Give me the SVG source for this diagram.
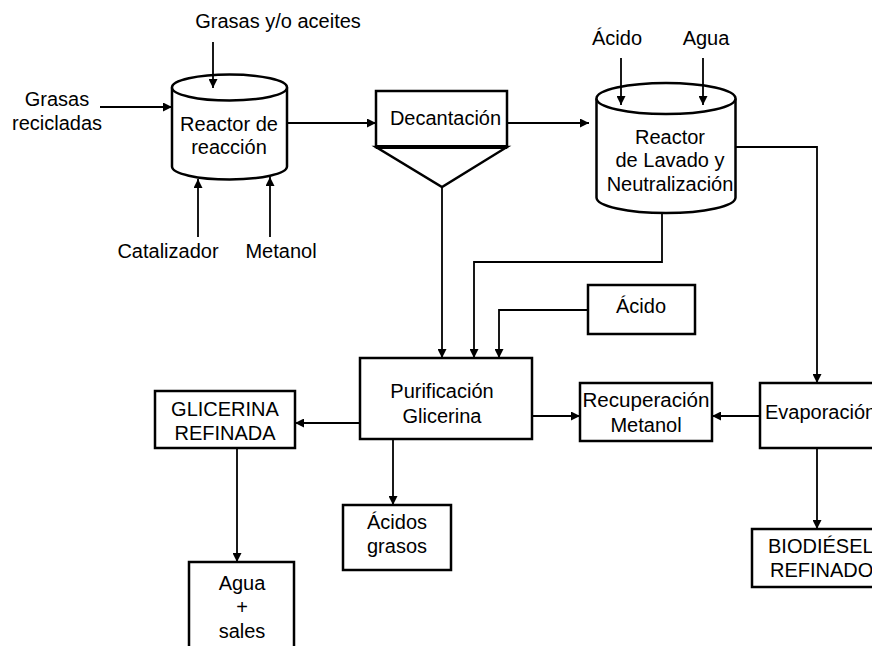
<svg xmlns="http://www.w3.org/2000/svg" width="872" height="646" viewBox="0 0 872 646">
<style>
text{font-family:"Liberation Sans",Arial,sans-serif;font-size:20px;fill:#000;text-anchor:middle}
.n{fill:#fff;stroke:#000;stroke-width:2.5}
.c{fill:none;stroke:#000;stroke-width:1.8}
.s{text-anchor:start}
</style>
<defs>
<marker id="a" markerUnits="userSpaceOnUse" markerWidth="9" markerHeight="9" refX="9" refY="4.5" orient="auto">
<path d="M0,0 L9,4.5 L0,9 z" fill="#000"/>
</marker>
</defs>
<rect width="872" height="646" fill="#fff"/>
<g id="labels">
<text x="278" y="28">Grasas y/o aceites</text>
<text x="57" y="106">Grasas</text>
<text x="57" y="130">recicladas</text>
<text x="168" y="258">Catalizador</text>
<text x="281" y="258">Metanol</text>
<text x="617" y="45">Ácido</text>
<text x="706" y="45">Agua</text>
</g>
<g id="reactor-reaccion">
<path class="n" d="M172,87.5 V166.5 A57.5,13 0 0 0 287,166.5 V87.5"/>
<ellipse class="n" cx="229.5" cy="87.5" rx="57.5" ry="13"/>
<text x="229" y="131">Reactor de</text>
<text x="229" y="154">reacción</text>
</g>
<g id="decantacion">
<rect class="n" x="376" y="91" width="131" height="56"/>
<path class="n" d="M376,147 H507 L442,187 Z"/>
<path d="M376,147 H507" stroke="#000" stroke-width="4"/>
<text x="445.5" y="125">Decantación</text>
</g>
<g id="reactor-lavado">
<path class="n" d="M596.5,98.5 V197.5 A69.5,15.5 0 0 0 735.5,197.5 V98.5"/>
<ellipse class="n" cx="666" cy="98.5" rx="69.5" ry="15.5"/>
<text x="670" y="144">Reactor</text>
<text x="670" y="167">de Lavado y</text>
<text x="670" y="191">Neutralización</text>
</g>
<g id="acido">
<rect class="n" x="588" y="285" width="107" height="49"/>
<text x="641" y="313">Ácido</text>
</g>
<g id="purificacion">
<rect class="n" x="360" y="358" width="172" height="81"/>
<text x="442" y="398">Purificación</text>
<text x="442" y="423">Glicerina</text>
</g>
<g id="recuperacion">
<rect class="n" x="580" y="383" width="132" height="58"/>
<text x="646" y="407" textLength="127" lengthAdjust="spacingAndGlyphs">Recuperación</text>
<text x="646" y="432">Metanol</text>
</g>
<g id="evaporacion">
<rect class="n" x="760" y="383" width="140" height="65"/>
<text class="s" x="765" y="419">Evaporación</text>
</g>
<g id="biodiesel">
<rect class="n" x="752" y="529" width="140" height="58"/>
<text class="s" x="768" y="553">BIODIÉSEL</text>
<text class="s" x="770" y="577">REFINADO</text>
</g>
<g id="glicerina">
<rect class="n" x="155" y="391" width="140" height="57"/>
<text x="225" y="416">GLICERINA</text>
<text x="225" y="440">REFINADA</text>
</g>
<g id="acidos-grasos">
<rect class="n" x="343" y="505" width="108" height="65"/>
<text x="397" y="529">Ácidos</text>
<text x="397" y="553">grasos</text>
</g>
<g id="agua-sales">
<rect class="n" x="189" y="562" width="105" height="100"/>
<text x="242" y="590">Agua</text>
<text x="242" y="614">+</text>
<text x="242" y="638">sales</text>
</g>
<g id="connectors">
<path class="c" d="M213,42 V88" marker-end="url(#a)"/>
<path class="c" d="M100,107 H172" marker-end="url(#a)"/>
<path class="c" d="M198,237 V179" marker-end="url(#a)"/>
<path class="c" d="M270,237 V177" marker-end="url(#a)"/>
<path class="c" d="M287,123 H376" marker-end="url(#a)"/>
<path class="c" d="M507,123 H589" marker-end="url(#a)"/>
<path class="c" d="M621,58 V105" marker-end="url(#a)"/>
<path class="c" d="M703,58 V105" marker-end="url(#a)"/>
<path class="c" d="M736,147 H817 V383" marker-end="url(#a)"/>
<path class="c" d="M662,213 V262 H474 V358" marker-end="url(#a)"/>
<path class="c" d="M442,187 V358" marker-end="url(#a)"/>
<path class="c" d="M588,310 H499 V358" marker-end="url(#a)"/>
<path class="c" d="M532,416 H580" marker-end="url(#a)"/>
<path class="c" d="M760,416 H712" marker-end="url(#a)"/>
<path class="c" d="M817,448 V529" marker-end="url(#a)"/>
<path class="c" d="M360,423 H295" marker-end="url(#a)"/>
<path class="c" d="M393,440 V505" marker-end="url(#a)"/>
<path class="c" d="M237,448 V562" marker-end="url(#a)"/>
</g>
</svg>
